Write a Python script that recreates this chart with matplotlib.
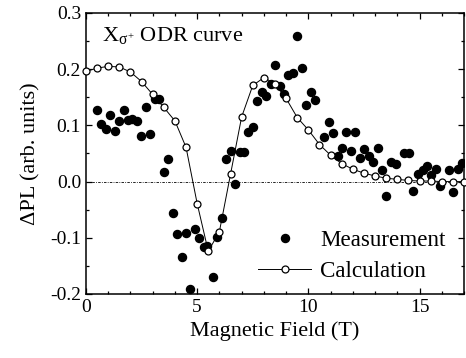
import numpy as np
import matplotlib
matplotlib.use('Agg')
import matplotlib.pyplot as plt

plt.rcParams['font.family'] = ['Liberation Serif', 'DejaVu Serif']
plt.rcParams['mathtext.fontset'] = 'custom'
plt.rcParams['mathtext.rm'] = 'Liberation Serif'
plt.rcParams['mathtext.it'] = 'Liberation Serif'
plt.rcParams['axes.unicode_minus'] = False

# Measured points (filled circles)
meas_field = [0.50, 0.69, 0.90, 1.10, 1.29, 1.49, 1.70, 1.89, 2.09, 2.30,
              2.49, 2.70, 2.90, 3.11, 3.30, 3.51, 3.71, 3.90, 4.10, 4.31,
              4.50, 4.70, 4.90, 5.09, 5.30, 5.45, 5.71, 5.90, 6.11, 6.31,
              6.52, 6.70, 6.91, 7.10, 7.30, 7.51, 7.70, 7.90, 8.09, 8.30,
              8.50, 8.71, 8.90, 9.10, 9.31, 9.50, 9.70, 9.91, 10.10, 10.32,
              10.72, 10.92, 11.11, 11.32, 11.52, 11.71, 11.91, 12.12, 12.31, 12.52,
              12.72, 12.91, 13.12, 13.32, 13.51, 13.71, 13.92, 14.31, 14.52, 14.71,
              14.95, 15.15, 15.32, 15.51, 15.72, 15.92, 16.32, 16.52, 16.72, 16.92]
meas_dpl = [0.128, 0.102, 0.094, 0.119, 0.090, 0.108, 0.128, 0.110, 0.112, 0.108,
            0.082, 0.132, 0.085, 0.147, 0.147, 0.017, 0.041, -0.055, -0.094, -0.134,
            -0.091, -0.191, -0.085, -0.101, -0.117, -0.115, -0.169, -0.098, -0.065, 0.041,
            0.054, -0.005, 0.052, 0.052, 0.088, 0.097, 0.143, 0.159, 0.153, 0.174,
            0.207, 0.170, 0.156, 0.189, 0.194, 0.259, 0.202, 0.136, 0.159, 0.146,
            0.079, 0.106, 0.086, 0.045, 0.060, 0.088, 0.054, 0.089, 0.042, 0.058,
            0.046, 0.034, 0.060, 0.020, -0.026, 0.034, 0.031, 0.051, 0.051, -0.016,
            0.013, 0.020, 0.028, 0.011, 0.023, -0.008, 0.020, -0.019, 0.023, 0.033]

# Calculated curve (open circles)
calc_field = [0.0, 0.5, 1.0, 1.5, 2.0, 2.5, 3.0, 3.5, 4.0, 4.5, 5.0, 5.5,
              6.0, 6.5, 7.0, 7.5, 8.0, 8.5, 9.0, 9.5, 10.0, 10.5, 11.0, 11.5,
              12.0, 12.5, 13.0, 13.5, 14.0, 14.5, 15.0, 15.5, 16.0, 16.5, 17.0]
calc_dpl = [0.196, 0.202, 0.205, 0.204, 0.195, 0.178, 0.155, 0.132, 0.108, 0.061,
            -0.039, -0.124, -0.089, 0.013, 0.115, 0.171, 0.185, 0.174, 0.148, 0.114,
            0.092, 0.066, 0.047, 0.032, 0.022, 0.015, 0.010, 0.006, 0.004, 0.002,
            0.001, 0.001, 0.0, 0.0, 0.0]

fig = plt.figure(figsize=(4.66, 3.58), dpi=100)
ax = fig.add_axes([0.1845, 0.1788, 0.8112, 0.7849])

ax.axhline(0, color='black', lw=0.6, ls=(0, (3, 1.5, 1, 1.5)), zorder=1)
ax.plot(meas_field, meas_dpl, 'o', color='black', ms=5.8, mec='black',
        label='Measurement', zorder=3)
ax.plot(calc_field, calc_dpl, '-o', color='black', lw=0.7, ms=5.0,
        mfc='white', mec='black', mew=0.9, label='Calculation', zorder=4,
        clip_on=False)

ax.set_xlim(0, 17)
ax.set_ylim(-0.2, 0.3)
ax.set_xticks([0, 5, 10, 15])
ax.set_xticks(np.arange(0, 17.5, 1), minor=True)
ax.set_yticks([-0.2, -0.1, 0.0, 0.1, 0.2, 0.3])
ax.set_yticks(np.arange(-0.2, 0.31, 0.05), minor=True)
ax.yaxis.set_major_formatter(matplotlib.ticker.FormatStrFormatter('%.1f'))
ax.tick_params(which='both', direction='in', top=True, right=True,
               labelsize=14, width=0.9)
ax.tick_params(which='major', length=4)
ax.tick_params(which='minor', length=2.5)
for s in ax.spines.values():
    s.set_linewidth(1.1)

ax.set_xlabel('Magnetic Field (T)', fontsize=16)
ax.set_ylabel('\u0394PL (arb. units)', fontsize=16, labelpad=7)

ax.text(0.042, 0.901, r'X$_{\sigma^{+}}$ ODR curve', transform=ax.transAxes,
        fontsize=16, va='baseline')

ax.legend(loc='lower right', frameon=False, fontsize=16.6, handlelength=2.3,
          handletextpad=0.4, labelspacing=0.45, borderaxespad=0.2,
          bbox_to_anchor=(0.988, -0.008))

fig.savefig('out.png', dpi=100)
